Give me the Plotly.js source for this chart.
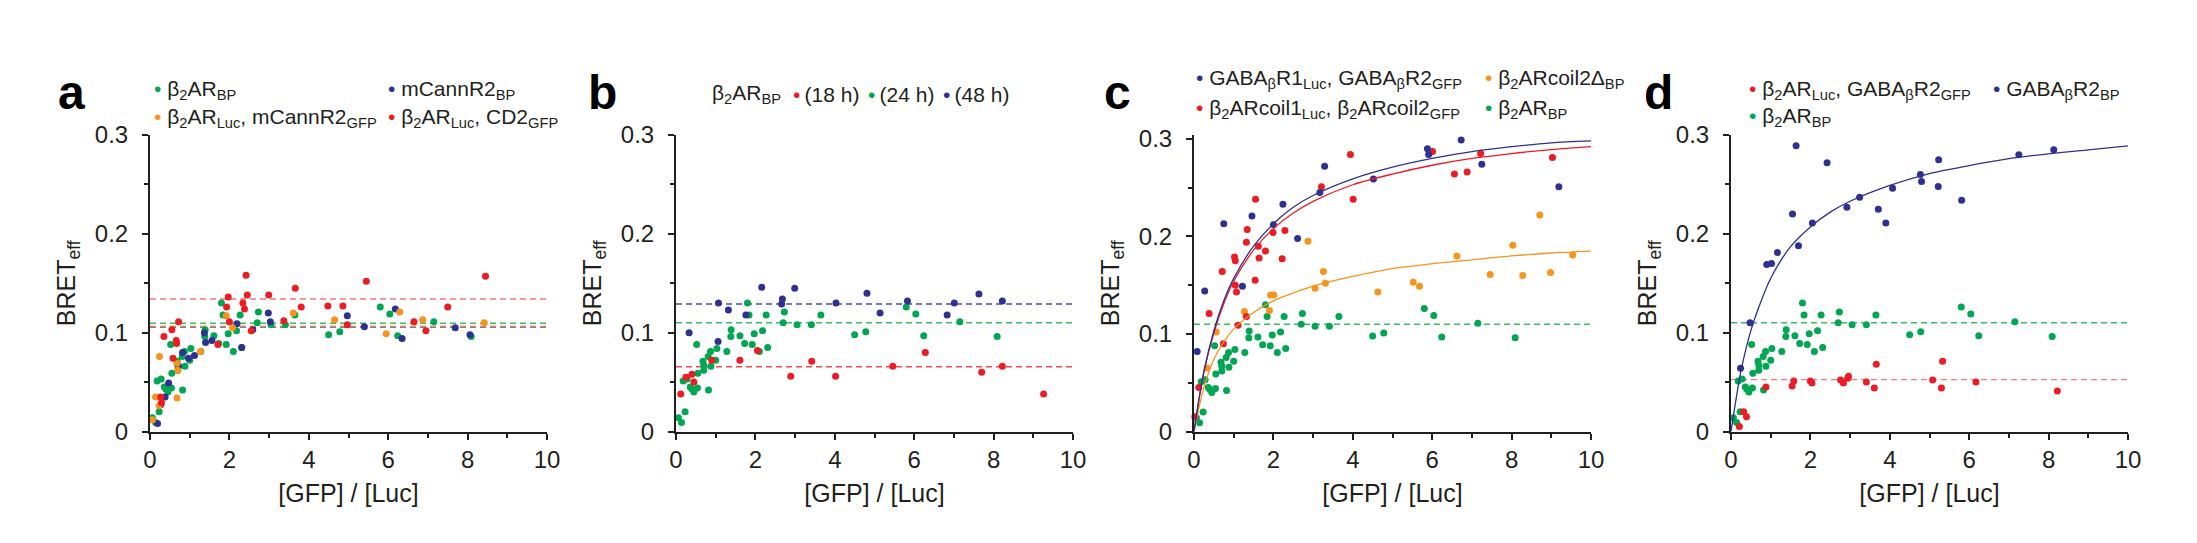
<!DOCTYPE html>
<html>
<head>
<meta charset="utf-8">
<script src="https://cdn.plot.ly/plotly-3.0.1.min.js"></script>
<style>
  html, body { margin: 0; padding: 0; background: #fff; }
  #chart { width: 2197px; height: 543px; }
</style>
</head>
<body>
<div id="chart"></div>
<script>
// ---- values ----

// b2AR_BP, the same series shows up in all four panels
const bpX = [0.06, 0.14, 0.23, 0.18, 0.28, 0.36, 0.40, 0.45, 0.54, 0.52, 0.55, 0.68, 0.70, 0.70, 0.81,
             0.82, 0.87, 0.88, 1.00, 1.03, 1.28, 1.38, 1.39, 1.61, 1.73, 1.80, 1.84, 1.92, 1.97, 2.10,
             2.18, 2.27, 2.31, 2.70, 2.73, 3.05, 3.41, 3.65, 4.50, 4.78, 5.80, 6.04, 6.24, 7.15, 8.09];
const bpY = [0.014, 0.009, 0.020, 0.051, 0.053, 0.045, 0.043, 0.040, 0.044, 0.088, 0.059, 0.071, 0.067, 0.062, 0.076,
             0.042, 0.081, 0.066, 0.072, 0.084, 0.081, 0.096, 0.103, 0.097, 0.089, 0.130, 0.118, 0.088, 0.099, 0.081,
             0.102, 0.118, 0.085, 0.110, 0.121, 0.108, 0.108, 0.118, 0.098, 0.101, 0.126, 0.119, 0.097, 0.111, 0.096];

// panel a
const aCannX = [0.19, 0.27, 0.38, 0.47, 0.72, 0.82, 0.97, 1.12, 1.37, 1.40, 1.56, 2.19, 2.31, 2.59, 2.98,
                3.03, 4.97, 5.40, 6.18, 6.35, 7.69, 8.06];
const aCannY = [0.008, 0.027, 0.035, 0.049, 0.066, 0.080, 0.074, 0.077, 0.100, 0.090, 0.092, 0.109, 0.085, 0.103, 0.120,
                0.111, 0.117, 0.106, 0.124, 0.094, 0.105, 0.098];
const aMixX = [0.06, 0.14, 0.23, 0.24, 0.68, 0.70, 0.68, 1.27, 1.92, 2.08, 3.61, 4.65, 5.95, 6.29, 6.87, 8.42];
const aMixY = [0.012, 0.035, 0.026, 0.076, 0.069, 0.062, 0.034, 0.081, 0.117, 0.105, 0.120, 0.113, 0.099, 0.121, 0.113, 0.110];
const aCd2X = [0.27, 0.29, 0.35, 0.55, 0.72, 0.58, 0.66, 0.67, 1.71, 1.93, 1.97, 2.00, 2.34, 2.38, 2.42,
               2.45, 2.55, 2.99, 3.37, 3.66, 3.81, 4.48, 4.86, 4.97, 5.45, 6.65, 6.95, 7.50, 8.45];
const aCd2Y = [0.035, 0.029, 0.096, 0.103, 0.111, 0.074, 0.092, 0.089, 0.088, 0.126, 0.136, 0.111, 0.130, 0.124, 0.158,
               0.138, 0.102, 0.138, 0.112, 0.145, 0.126, 0.127, 0.127, 0.108, 0.152, 0.111, 0.102, 0.126, 0.157];
// mean lines: bp, mCannR2, mixed, CD2
const aMeans = [0.1095, 0.1058, 0.1066, 0.134];

// panel b (time course)
const b18X = [0.12, 0.25, 0.40, 0.45, 0.90, 1.61, 2.05, 2.89, 3.42, 4.02, 5.46, 6.28, 7.70, 8.22, 9.26];
const b18Y = [0.038, 0.055, 0.058, 0.050, 0.072, 0.072, 0.082, 0.056, 0.071, 0.056, 0.066, 0.080, 0.060, 0.066, 0.038];
const b48X = [0.33, 1.07, 1.32, 1.06, 1.76, 2.16, 2.66, 2.68, 2.99, 4.03, 4.81, 5.14, 5.83, 6.83, 7.01, 7.63, 8.22];
const b48Y = [0.100, 0.130, 0.123, 0.091, 0.118, 0.146, 0.129, 0.134, 0.145, 0.130, 0.140, 0.120, 0.132, 0.118, 0.130, 0.139, 0.132];
// mean lines: 18 h, 24 h, 48 h
const bMeans = [0.0655, 0.110, 0.129];

// panel c
const cGabaX = [0.08, 0.27, 0.75, 1.22, 1.46, 2.00, 2.24, 2.61, 3.17, 3.29, 4.52, 5.88, 5.91, 6.73, 7.25, 9.19];
const cGabaY = [0.082, 0.144, 0.213, 0.149, 0.221, 0.212, 0.233, 0.198, 0.245, 0.272, 0.259, 0.290, 0.284, 0.299, 0.274, 0.251];
const cCoilX = [0.02, 0.12, 0.38, 0.71, 0.74, 1.02, 1.04, 1.04, 1.07, 1.11, 1.32, 1.34, 1.32, 1.54, 1.55,
                1.62, 1.64, 1.80, 1.99, 2.22, 2.29, 3.21, 3.94, 4.01, 6.01, 6.56, 6.88, 7.22, 9.03];
const cCoilY = [0.015, 0.045, 0.121, 0.164, 0.090, 0.179, 0.175, 0.150, 0.143, 0.109, 0.118, 0.207, 0.194, 0.155, 0.238,
                0.190, 0.178, 0.185, 0.204, 0.177, 0.206, 0.251, 0.284, 0.238, 0.287, 0.264, 0.266, 0.285, 0.281];
const cDeltaX = [0.33, 0.56, 1.27, 1.90, 1.93, 2.01, 2.87, 3.05, 3.26, 3.31, 4.63, 5.52, 5.68, 6.62, 7.46, 8.03, 8.28, 8.71, 8.98, 9.54];
const cDeltaY = [0.065, 0.102, 0.123, 0.124, 0.140, 0.140, 0.195, 0.147, 0.164, 0.152, 0.143, 0.153, 0.149, 0.180, 0.161, 0.191, 0.160, 0.222, 0.163, 0.181];
const cMeans = [0.110];

// saturation fits
const fitX = [0, 0.1, 0.25, 0.5, 0.75, 1, 1.5, 2, 2.5, 3, 4, 5, 6, 7, 8, 9, 10];
const cGabaFit = [0, 0.027, 0.062, 0.103, 0.134, 0.157, 0.190, 0.213, 0.230, 0.242, 0.259, 0.271, 0.280, 0.287, 0.292, 0.296, 0.298];
const cCoilFit = [0, 0.026, 0.061, 0.101, 0.131, 0.154, 0.186, 0.208, 0.224, 0.236, 0.253, 0.264, 0.273, 0.280, 0.285, 0.289, 0.292];
const cDeltaFit = [0, 0.020, 0.045, 0.074, 0.092, 0.105, 0.122, 0.134, 0.142, 0.149, 0.159, 0.167, 0.172, 0.176, 0.180, 0.183, 0.185];

// panel d
const dHetX = [0.21, 0.32, 0.39, 0.88, 1.54, 1.58, 2.00, 2.04, 2.76, 2.83, 2.94, 2.96, 3.41, 3.61, 3.66, 5.08, 5.30, 5.33, 6.17, 8.22];
const dHetY = [0.005, 0.020, 0.015, 0.045, 0.046, 0.051, 0.051, 0.049, 0.052, 0.049, 0.054, 0.056, 0.050, 0.044, 0.068, 0.052, 0.044, 0.071, 0.050, 0.041];
const dGabaX = [0.24, 0.48, 0.90, 1.02, 1.17, 1.55, 1.64, 1.70, 2.05, 2.42, 2.92, 3.24, 3.71, 3.90, 4.07, 4.77, 4.80, 5.22, 5.23, 5.81, 7.25, 8.13];
const dGabaY = [0.064, 0.110, 0.169, 0.170, 0.181, 0.220, 0.289, 0.188, 0.211, 0.272, 0.227, 0.237, 0.225, 0.211, 0.246, 0.260, 0.253, 0.248, 0.275, 0.234, 0.280, 0.285];
const dGabaFit = [0, 0.026, 0.061, 0.102, 0.131, 0.155, 0.187, 0.207, 0.222, 0.233, 0.249, 0.261, 0.269, 0.276, 0.281, 0.285, 0.289];
// mean lines: b2AR_BP, b2AR/GABA-B R2
const dMeans = [0.110, 0.0525];

// ---- styling ----
const INK = '#231f20';
const FONT = 'Liberation Sans, Arial, Helvetica, sans-serif';
const GREEN = '#00a651', RED = '#ed1c24', BLUE = '#2e3192', ORANGE = '#f7941d';
const W = 2197, H = 543;

const px = (v) => v / W;
const py = (v) => 1 - v / H;

// plot areas in pixels: [left, right]
const cols = [[150, 547], [676, 1073], [1194, 1591], [1731, 2128]];
const yDom = [py(431.5), py(135)];

function xAxis(i) {
  return {
    domain: [px(cols[i][0]), px(cols[i][1])],
    anchor: i === 0 ? 'y' : 'y' + (i + 1),
    range: [0, 10], tick0: 0, dtick: 2,
    ticks: 'outside', ticklen: 6, tickwidth: 2, tickcolor: INK,
    minor: { dtick: 1, ticks: 'outside', ticklen: 4, tickwidth: 2, tickcolor: INK, showgrid: false },
    showline: true, linecolor: INK, linewidth: 2,
    showgrid: false, zeroline: false, fixedrange: true,
    tickfont: { family: FONT, size: 24, color: INK },
    title: { text: '[GFP] / [Luc]', font: { family: FONT, size: 25, color: INK }, standoff: 12 },
  };
}

function yAxis(i, top) {
  return {
    domain: yDom,
    anchor: i === 0 ? 'x' : 'x' + (i + 1),
    range: [0, top], tick0: 0, dtick: 0.1,
    ticks: 'outside', ticklen: 6, tickwidth: 2, tickcolor: INK,
    minor: { dtick: 0.05, ticks: 'outside', ticklen: 4, tickwidth: 2, tickcolor: INK, showgrid: false },
    showline: true, linecolor: INK, linewidth: 2,
    showgrid: false, zeroline: false, fixedrange: true,
    ticklabelstandoff: 9,
    tickfont: { family: FONT, size: 24, color: INK },
    title: { text: 'BRET<sub>eff</sub>', font: { family: FONT, size: 25, color: INK }, standoff: 12 },
  };
}

function ax(i) {
  return i === 0 ? ['x', 'y'] : ['x' + (i + 1), 'y' + (i + 1)];
}

function dots(x, y, color, i) {
  const [xa, ya] = ax(i);
  return { type: 'scatter', mode: 'markers', x: x, y: y, xaxis: xa, yaxis: ya,
           marker: { size: 7, color: color }, cliponaxis: false, showlegend: false, hoverinfo: 'skip' };
}

function meanLine(v, color, i) {
  const [xa, ya] = ax(i);
  return { type: 'scatter', mode: 'lines', x: [0, 10], y: [v, v], xaxis: xa, yaxis: ya,
           line: { color: color, width: 1.4, dash: '6px,4px' }, showlegend: false, hoverinfo: 'skip' };
}

function fitLine(y, color, i) {
  const [xa, ya] = ax(i);
  return { type: 'scatter', mode: 'lines', x: fitX, y: y, xaxis: xa, yaxis: ya,
           line: { color: color, width: 1.3, shape: 'spline', smoothing: 0.8 }, showlegend: false, hoverinfo: 'skip' };
}

const data = [
  // a
  meanLine(aMeans[0], '#3dba64', 0),
  meanLine(aMeans[1], '#4b50a8', 0),
  meanLine(aMeans[2], '#f7a035', 0),
  meanLine(aMeans[3], '#f4777c', 0),
  dots(bpX, bpY, GREEN, 0),
  dots(aCannX, aCannY, BLUE, 0),
  dots(aMixX, aMixY, ORANGE, 0),
  dots(aCd2X, aCd2Y, RED, 0),
  // b
  meanLine(bMeans[0], '#ef4a50', 1),
  meanLine(bMeans[1], '#3dba64', 1),
  meanLine(bMeans[2], '#4b50a8', 1),
  dots(bpX, bpY, GREEN, 1),
  dots(b18X, b18Y, RED, 1),
  dots(b48X, b48Y, BLUE, 1),
  // c
  meanLine(cMeans[0], '#3dba64', 2),
  dots(bpX, bpY, GREEN, 2),
  dots(cDeltaX, cDeltaY, ORANGE, 2),
  dots(cCoilX, cCoilY, RED, 2),
  dots(cGabaX, cGabaY, BLUE, 2),
  fitLine(cDeltaFit, ORANGE, 2),
  fitLine(cCoilFit, RED, 2),
  fitLine(cGabaFit, BLUE, 2),
  // d
  meanLine(dMeans[0], '#3dba64', 3),
  meanLine(dMeans[1], '#f47c80', 3),
  dots(bpX, bpY, GREEN, 3),
  dots(dHetX, dHetY, RED, 3),
  dots(dGabaX, dGabaY, BLUE, 3),
  fitLine(dGabaFit, BLUE, 3),
];

// legend entries drawn as text: [dot centre x, row centre y, colour, label, gap]
const BP = '\u03b2<sub>2</sub>AR<sub>BP</sub>';
const SP = ' ', THIN = '\u2009';
const legendItems = [
  [157, 90, GREEN, BP, SP],
  [391, 90, BLUE, 'mCannR2<sub>BP</sub>', SP],
  [157, 118.5, ORANGE, '\u03b2<sub>2</sub>AR<sub>Luc</sub>, mCannR2<sub>GFP</sub>', SP],
  [391, 118.5, RED, '\u03b2<sub>2</sub>AR<sub>Luc</sub>, CD2<sub>GFP</sub>', SP],
  [796, 94, RED, '(18 h)', THIN],
  [871, 94, GREEN, '(24 h)', THIN],
  [946, 94, BLUE, '(48 h)', THIN],
  [1199, 79, BLUE, 'GABA<sub>\u03b2</sub>R1<sub>Luc</sub>, GABA<sub>\u03b2</sub>R2<sub>GFP</sub>', SP],
  [1488, 79, ORANGE, '\u03b2<sub>2</sub>ARcoil2\u0394<sub>BP</sub>', SP],
  [1199, 109, RED, '\u03b2<sub>2</sub>ARcoil1<sub>Luc</sub>, \u03b2<sub>2</sub>ARcoil2<sub>GFP</sub>', SP],
  [1488, 109, GREEN, BP, SP],
  [1752, 90, RED, '\u03b2<sub>2</sub>AR<sub>Luc</sub>, GABA<sub>\u03b2</sub>R2<sub>GFP</sub>', SP],
  [1996, 90, BLUE, 'GABA<sub>\u03b2</sub>R2<sub>BP</sub>', SP],
  [1752, 117, GREEN, BP, SP],
];

const annotations = legendItems.map(([x, y, color, label, gap]) => ({
  xref: 'paper', yref: 'paper', x: px(x - 5), y: py(y),
  xanchor: 'left', yanchor: 'middle', showarrow: false,
  text: '<span style="color:' + color + '">\u2022</span>' + gap + label,
  font: { family: FONT, size: 21, color: INK },
}));

// prefix of the panel b legend
annotations.push({
  xref: 'paper', yref: 'paper', x: px(710), y: py(94),
  xanchor: 'left', yanchor: 'middle', showarrow: false,
  text: BP, font: { family: FONT, size: 21, color: INK },
});

// panel letters
[['a', 71], ['b', 602], ['c', 1117], ['d', 1658]].forEach(([t, x]) => {
  annotations.push({
    xref: 'paper', yref: 'paper', x: px(x), y: py(92),
    xanchor: 'center', yanchor: 'middle', showarrow: false,
    text: '<b>' + t + '</b>', font: { family: FONT, size: 48, color: '#000' },
  });
});

const layout = {
  width: W, height: H, autosize: false,
  margin: { l: 0, r: 0, t: 0, b: 0 },
  paper_bgcolor: '#fff', plot_bgcolor: '#fff',
  font: { family: FONT, color: INK },
  showlegend: false,
  xaxis: xAxis(0), yaxis: yAxis(0, 0.3),
  xaxis2: xAxis(1), yaxis2: yAxis(1, 0.3),
  xaxis3: xAxis(2), yaxis3: yAxis(2, 0.304),
  xaxis4: xAxis(3), yaxis4: yAxis(3, 0.3),
  annotations: annotations,
};

Plotly.newPlot('chart', data, layout, { displayModeBar: false });
</script>
</body>
</html>
